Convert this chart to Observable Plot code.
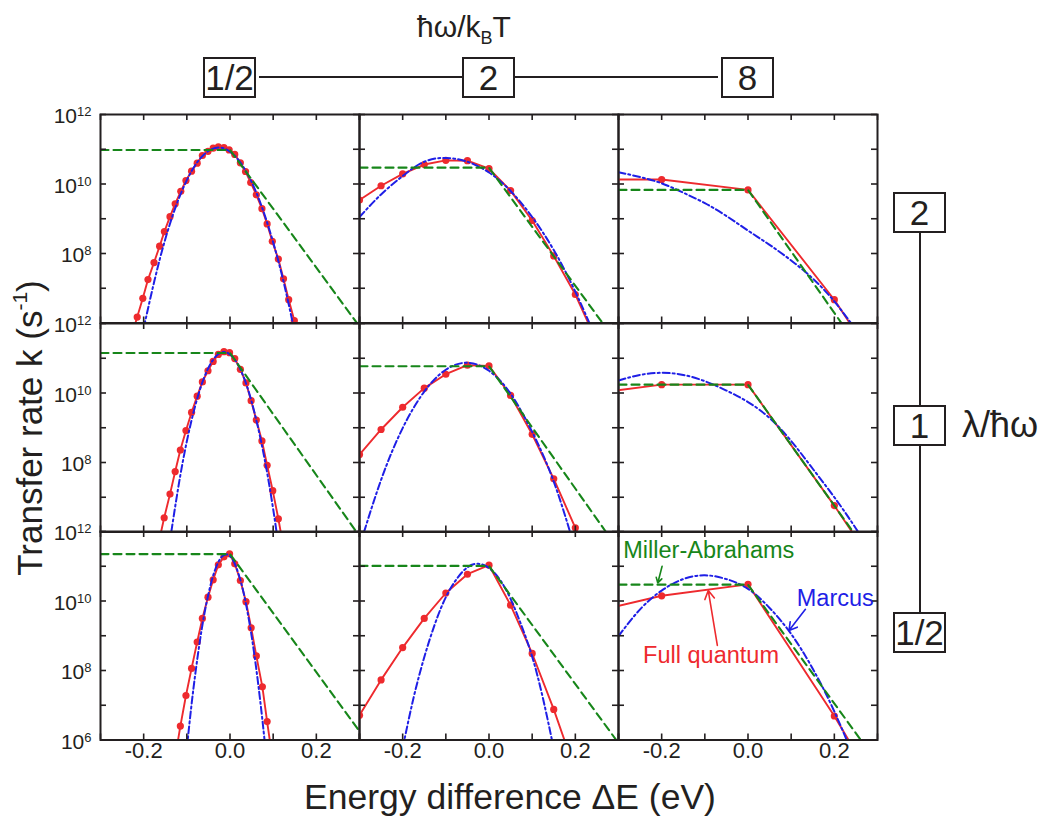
<!DOCTYPE html>
<html>
<head>
<meta charset="utf-8">
<script src="https://cdn.jsdelivr.net/npm/d3@7"></script>
<script src="https://cdn.jsdelivr.net/npm/@observablehq/plot@0.6"></script>
<style>
  html, body { margin: 0; padding: 0; background: #fff; }
  #wrap { position: relative; width: 1041px; height: 818px; overflow: hidden;
          font-family: "Liberation Sans", Arial, sans-serif; color: #231f20; }
  .panel { position: absolute; }
  .box { position: absolute; box-sizing: border-box; border: 2px solid #231f20; background: #fff;
         display: flex; align-items: center; justify-content: center; font-size: 35px; }
  .hline, .vline { position: absolute; background: #231f20; }
  .lbl { position: absolute; white-space: nowrap; }
</style>
</head>
<body>
<div id="wrap"></div>
<script>
// ---------------- data ----------------
// x: energy difference ΔE (eV); second value: log10 of transfer rate k (s^-1)
const xTicks = [-0.3, -0.2, -0.1, 0, 0.1, 0.2, 0.3];
const xLabelVals = [-0.2, 0, 0.2];
const xLabelText = ["-0.2", "0.0", "0.2"];
const yDecades = [1e6, 1e7, 1e8, 1e9, 1e10, 1e11, 1e12];
const yLabelVals = [1e8, 1e10, 1e12];
const yLabelValsBottom = [1e6, 1e8, 1e10, 1e12];
const colLabels = ["1/2", "2", "8"];       // ħω/kBT
const rowLabels = ["2", "1", "1/2"];       // λ/ħω
const seriesNames = ["Miller-Abrahams", "Marcus", "Full quantum"];

// Row a (λ/ħω = 2)
const FQ_a1 = [[-0.227,5.67],[-0.215,6.17],[-0.202,6.71],[-0.190,7.25],[-0.176,7.74],[-0.163,8.21],[-0.152,8.63],[-0.139,9.06],[-0.127,9.43],[-0.114,9.79],[-0.102,10.10],[-0.089,10.37],[-0.076,10.60],[-0.064,10.82],[-0.051,10.94],[-0.039,11.03],[-0.027,11.07],[-0.014,11.05],[-0.002,10.98],[0.011,10.85],[0.024,10.61],[0.036,10.36],[0.048,10.04],[0.061,9.69],[0.074,9.29],[0.086,8.85],[0.098,8.35],[0.112,7.84],[0.124,7.27],[0.136,6.67],[0.149,6.07],[0.161,5.4]];
const MR_a1 = [[-0.2,5.85],[-0.175,7.22],[-0.15,8.41],[-0.125,9.37],[-0.1,10.11],[-0.075,10.64],[-0.05,10.95],[-0.025,11.05],[0,10.93],[0.025,10.6],[0.05,10.06],[0.075,9.3],[0.1,8.32],[0.125,7.14],[0.15,5.73]];
const MA_a1 = [[-0.3,10.98],[0,10.98],[0.3,5.9]];

const FQ_a2 = [[-0.3,9.54],[-0.25,9.95],[-0.2,10.29],[-0.15,10.56],[-0.1,10.68],[-0.05,10.67],[0,10.44],[0.05,9.81],[0.1,8.95],[0.15,7.93],[0.2,6.82],[0.25,5.45]];
const MR_a2 = [[-0.3,9.05],[-0.25,9.7],[-0.2,10.23],[-0.15,10.64],[-0.1,10.75],[-0.05,10.64],[0,10.33],[0.05,9.8],[0.1,9.05],[0.15,8.1],[0.2,6.9],[0.25,5.5]];
const MA_a2 = [[-0.3,10.47],[0,10.47],[0.3,5.37]];

const FQ_a3 = [[-0.4,10.13],[-0.2,10.13],[0,9.83],[0.2,6.67],[0.4,2.9]];
const MR_a3 = [[-0.3,10.34],[-0.25,10.2],[-0.2,10.02],[-0.15,9.75],[-0.1,9.45],[-0.05,9.08],[0,8.66],[0.05,8.25],[0.1,7.8],[0.15,7.28],[0.2,6.62],[0.25,5.8]];
const MA_a3 = [[-0.3,9.83],[0,9.83],[0.3,4.52]];

// Row b (λ/ħω = 1)
const FQ_b1 = [[-0.165,5.7],[-0.1525,6.41],[-0.139,7.09],[-0.127,7.74],[-0.115,8.36],[-0.102,8.92],[-0.089,9.44],[-0.076,9.91],[-0.064,10.32],[-0.051,10.64],[-0.039,10.91],[-0.027,11.11],[-0.014,11.19],[-0.001,11.16],[0.011,10.99],[0.024,10.68],[0.037,10.29],[0.049,9.78],[0.061,9.22],[0.074,8.62],[0.086,7.92],[0.099,7.19],[0.112,6.38],[0.124,5.55]];
const MR_b1 = [[-0.15,4.74],[-0.14,5.66],[-0.12,7.27],[-0.1,8.61],[-0.08,9.66],[-0.06,10.44],[-0.04,10.94],[-0.02,11.17],[0,11.11],[0.02,10.78],[0.04,10.17],[0.06,9.27],[0.08,8.11],[0.1,6.66],[0.12,4.93]];
const MA_b1 = [[-0.3,11.15],[0,11.15],[0.3,5.88]];

const FQ_b2 = [[-0.3,8.23],[-0.25,8.95],[-0.2,9.59],[-0.15,10.14],[-0.1,10.54],[-0.05,10.80],[0,10.78],[0.05,9.93],[0.1,8.81],[0.15,7.53],[0.2,6.12],[0.25,4.6]];
const MR_b2 = [[-0.3,5.58],[-0.25,7.5],[-0.2,8.99],[-0.15,10.04],[-0.1,10.67],[-0.05,10.87],[0,10.64],[0.05,9.98],[0.1,8.88],[0.15,7.45],[0.2,5.5]];
const MA_b2 = [[-0.3,10.77],[0,10.77],[0.3,5.49]];

const FQ_b3 = [[-0.4,9.92],[-0.2,10.24],[0,10.24],[0.2,6.76],[0.4,3.06]];
const MR_b3 = [[-0.3,10.36],[-0.25,10.52],[-0.2,10.58],[-0.15,10.52],[-0.1,10.34],[-0.05,10.07],[0,9.74],[0.05,9.28],[0.1,8.62],[0.15,7.82],[0.2,7.0],[0.25,6.1],[0.3,5.1]];
const MA_b3 = [[-0.3,10.24],[0,10.24],[0.3,5.02]];

// Row c (λ/ħω = 1/2)
const FQ_c1 = [[-0.127,5.5],[-0.115,6.40],[-0.102,7.28],[-0.089,8.06],[-0.076,8.82],[-0.064,9.50],[-0.051,10.11],[-0.039,10.61],[-0.027,11.04],[-0.014,11.27],[-0.001,11.36],[0.011,11.07],[0.024,10.59],[0.037,9.98],[0.049,9.23],[0.061,8.42],[0.075,7.53],[0.086,6.53],[0.099,5.4]];
const MR_c1 = [[-0.1,5.76],[-0.09,6.92],[-0.08,7.94],[-0.07,8.83],[-0.06,9.59],[-0.05,10.2],[-0.04,10.69],[-0.03,11.04],[-0.02,11.26],[-0.01,11.34],[0,11.29],[0.01,11.1],[0.02,10.77],[0.03,10.32],[0.04,9.72],[0.05,9.0],[0.06,8.13],[0.07,7.13],[0.08,6.0],[0.09,4.74]];
const MA_c1 = [[-0.3,11.35],[0,11.35],[0.3,6.25]];

const FQ_c2 = [[-0.3,6.71],[-0.25,7.73],[-0.2,8.66],[-0.15,9.50],[-0.1,10.23],[-0.05,10.77],[0,11.03],[0.05,9.88],[0.1,8.49],[0.15,6.88],[0.2,5.1]];
const MR_c2 = [[-0.2,5.77],[-0.175,7.2],[-0.15,8.38],[-0.125,9.35],[-0.1,10.11],[-0.075,10.63],[-0.05,10.97],[-0.025,11.07],[0,10.95],[0.025,10.62],[0.05,10.06],[0.075,9.3],[0.1,8.4],[0.125,7.2],[0.15,5.75]];
const MA_c2 = [[-0.3,11.01],[0,11.01],[0.3,5.91]];

const FQ_c3 = [[-0.4,9.57],[-0.2,10.15],[0,10.48],[0.2,6.69],[0.4,2.5]];
const MR_c3 = [[-0.3,8.99],[-0.25,9.76],[-0.2,10.3],[-0.15,10.63],[-0.1,10.74],[-0.05,10.63],[0,10.35],[0.05,9.8],[0.1,9.05],[0.15,8.05],[0.2,6.82],[0.25,5.35]];
const MA_c3 = [[-0.3,10.47],[0,10.47],[0.3,5.34]];

const panels = [
  [[FQ_a1, MR_a1, MA_a1], [FQ_a2, MR_a2, MA_a2], [FQ_a3, MR_a3, MA_a3]],
  [[FQ_b1, MR_b1, MA_b1], [FQ_b2, MR_b2, MA_b2], [FQ_b3, MR_b3, MA_b3]],
  [[FQ_c1, MR_c1, MA_c1], [FQ_c2, MR_c2, MA_c2], [FQ_c3, MR_c3, MA_c3]]
];

// annotation placement (panel c3), in data units
const noteText = [
  {text: "Miller-Abrahams", x: -0.289, lg: 11.45, color: "green"},
  {text: "Marcus", x: 0.113, lg: 10.08, color: "blue"},
  {text: "Full quantum", x: -0.243, lg: 8.42, color: "red"}
];
const noteArrows = [
  {x1: -0.199, y1: 11.0, x2: -0.209, y2: 10.52, color: "green"},
  {x1: 0.133, y1: 9.76, x2: 0.095, y2: 9.15, color: "blue"},
  {x1: -0.071, y1: 8.72, x2: -0.092, y2: 10.30, color: "red"}
];

// ---------------- style ----------------
const INK = "#231f20";
const COLORS = {red: "#ee2a2e", blue: "#1f1fe6", green: "#17861a"};
const FONT = '"Liberation Sans", Arial, sans-serif';
const W = 259, H = 208.5;
const ML = 100, MR = 20, MT = 20, MB = 60;
const colX = [100, 359, 618];
const rowY = [114, 322.5, 531];

const wrap = document.getElementById("wrap");
const X = d => d[0];
const Y = d => 10 ** d[1];

function supify(svg) {
  d3.select(svg).selectAll("text").each(function () {
    const m = (this.textContent || "").match(/^10\^(-?\d+)$/);
    if (m) {
      const t = d3.select(this);
      t.text("10");
      t.append("tspan").attr("dy", "-0.55em").attr("font-size", "0.62em").text(m[1]);
    }
  });
}

for (let r = 0; r < 3; r++) {
  for (let c = 0; c < 3; c++) {
    const [fq, mr, ma] = panels[r][c];
    const marks = [
      Plot.line(fq, {x: X, y: Y, stroke: COLORS.red, strokeWidth: 1.9, clip: true}),
      Plot.dot(fq, {x: X, y: Y, r: 3.6, fill: COLORS.red, stroke: "none", clip: true}),
      Plot.line(mr, {x: X, y: Y, stroke: COLORS.blue, strokeWidth: 2, strokeDasharray: "7,3,2,3", curve: "natural", clip: true}),
      Plot.line(ma, {x: X, y: Y, stroke: COLORS.green, strokeWidth: 2.1, strokeDasharray: "8,5", clip: true}),
      Plot.frame({stroke: INK, strokeWidth: 2}),
      Plot.tickY(yDecades, {y: d => d, insetRight: W - 6, stroke: INK, strokeWidth: 1.6}),
      Plot.tickY(yDecades, {y: d => d, insetLeft: W - 6, stroke: INK, strokeWidth: 1.6}),
      Plot.tickX(xTicks, {x: d => d, insetTop: H - 6, stroke: INK, strokeWidth: 1.6}),
      Plot.tickX(xTicks, {x: d => d, insetBottom: H - 6, stroke: INK, strokeWidth: 1.6})
    ];
    if (c === 0) {
      marks.push(Plot.text(r === 2 ? yLabelValsBottom : yLabelVals, {
        y: d => d, text: d => "10^" + Math.round(Math.log10(d)),
        frameAnchor: "left", textAnchor: "end", dx: -9, dy: 2, fontSize: 21, fill: INK
      }));
    }
    if (r === 2) {
      marks.push(Plot.text(xLabelVals, {
        x: d => d, text: (d, i) => xLabelText[i],
        frameAnchor: "bottom", dy: 18, fontSize: 22, fill: INK
      }));
    }
    if (r === 2 && c === 2) {
      for (const a of noteArrows) {
        marks.push(Plot.arrow([a], {x1: d => d.x1, y1: d => 10 ** d.y1, x2: d => d.x2, y2: d => 10 ** d.y2,
          stroke: COLORS[a.color], strokeWidth: 1.6, headLength: 9}));
      }
      for (const n of noteText) {
        marks.push(Plot.text([n], {x: d => d.x, y: d => 10 ** d.lg, text: d => d.text,
          textAnchor: "start", fontSize: 23.5, fill: COLORS[n.color]}));
      }
    }
    const svg = Plot.plot({
      width: W + ML + MR,
      height: H + MT + MB,
      marginLeft: ML, marginRight: MR, marginTop: MT, marginBottom: MB,
      x: {domain: [-0.3, 0.3], axis: null},
      y: {type: "log", domain: [1e6, 1e12], axis: null},
      style: {background: "transparent", overflow: "visible", fontFamily: FONT, color: INK},
      marks
    });
    supify(svg);
    const div = document.createElement("div");
    div.className = "panel";
    div.style.left = (colX[c] - ML) + "px";
    div.style.top = (rowY[r] - MT) + "px";
    div.appendChild(svg);
    wrap.appendChild(div);
  }
}

// ---------------- surrounding labels ----------------
function addEl(cls, css, html) {
  const e = document.createElement("div");
  e.className = cls;
  Object.assign(e.style, css);
  if (html != null) e.innerHTML = html;
  wrap.appendChild(e);
  return e;
}

// top parameter ħω/kBT
addEl("lbl", {left: "364px", width: "200px", top: "9px", textAlign: "center", fontSize: "30px", lineHeight: "36px"},
  'ħω/k<span style="font-size:0.6em;position:relative;top:0.4em">B</span>T');
addEl("hline", {left: "259px", top: "76px", width: "459px", height: "2px"});
const topCx = colX.map(x => x + W / 2);
colLabels.forEach((t, i) => addEl("box", {left: (topCx[i] - 26.5) + "px", top: "57px", width: "53px", height: "41px"}, t));

// right parameter λ/ħω
addEl("vline", {left: "918.5px", top: "233px", width: "2px", height: "380px"});
const rightCy = [212.5, 425.5, 632.5];
rowLabels.forEach((t, i) => addEl("box", {left: "893px", top: (rightCy[i] - 20.5) + "px", width: "53px", height: "41px"}, t));
addEl("lbl", {left: "962px", top: "405px", fontSize: "36px", lineHeight: "40px"}, "λ/ħω");

// axis titles
addEl("lbl", {left: "210px", width: "600px", top: "779px", textAlign: "center", fontSize: "35.5px", lineHeight: "36px"},
  "Energy difference ΔE (eV)");
addEl("lbl", {left: "-220px", width: "500px", top: "408px", height: "40px", textAlign: "center", fontSize: "35px",
  lineHeight: "40px", transform: "rotate(-90deg)", transformOrigin: "250px 20px"},
  'Transfer rate k (s<span style="font-size:0.6em;position:relative;top:-0.7em">-1</span>)');
</script>
</body>
</html>
